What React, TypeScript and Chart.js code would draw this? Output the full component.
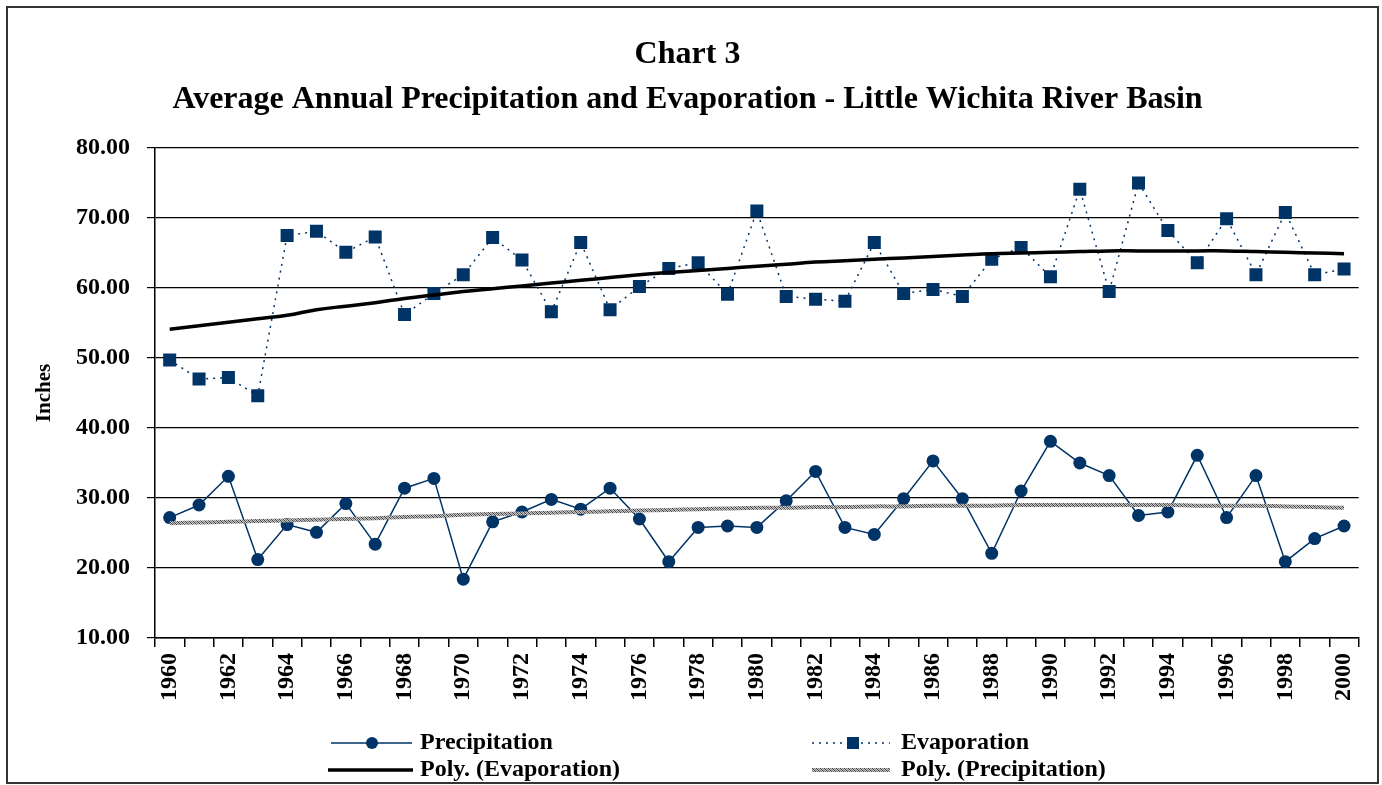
import React, { useEffect, useRef } from 'react';
import { Chart, registerables } from 'chart.js';

Chart.register(...registerables);

const years = [
  '1960', '1961', '1962', '1963', '1964', '1965', '1966', '1967', '1968', '1969',
  '1970', '1971', '1972', '1973', '1974', '1975', '1976', '1977', '1978', '1979',
  '1980', '1981', '1982', '1983', '1984', '1985', '1986', '1987', '1988', '1989',
  '1990', '1991', '1992', '1993', '1994', '1995', '1996', '1997', '1998', '1999', '2000',
];

const precipitation = [
  27.2, 29.0, 33.1, 21.2, 26.2, 25.1, 29.2, 23.4, 31.4, 32.8,
  18.4, 26.6, 28.0, 29.8, 28.4, 31.4, 27.0, 20.9, 25.8, 26.0,
  25.8, 29.6, 33.8, 25.8, 24.8, 29.9, 35.3, 29.9, 22.1, 31.0,
  38.1, 35.0, 33.2, 27.5, 28.0, 36.1, 27.2, 33.2, 20.9, 24.2, 26.0,
];

const evaporation = [
  49.7, 47.0, 47.2, 44.6, 67.5, 68.1, 65.1, 67.3, 56.2, 59.2,
  61.9, 67.2, 64.0, 56.6, 66.5, 56.9, 60.2, 62.8, 63.6, 59.1,
  71.0, 58.8, 58.4, 58.1, 66.5, 59.2, 59.8, 58.8, 64.1, 65.8,
  61.6, 74.1, 59.5, 75.0, 68.2, 63.6, 69.9, 61.9, 70.8, 61.9, 62.7,
];

const polyEvaporation = [
  54.1, 54.6, 55.1, 55.6, 56.1, 56.9, 57.4, 57.9, 58.5, 59.0,
  59.5, 59.9, 60.3, 60.7, 61.1, 61.5, 61.9, 62.2, 62.5, 62.8,
  63.1, 63.4, 63.7, 63.9, 64.1, 64.3, 64.5, 64.7, 64.9, 65.0,
  65.1, 65.2, 65.3, 65.3, 65.3, 65.3, 65.3, 65.2, 65.1, 65.0, 64.9,
];

const polyPrecipitation = [
  26.4, 26.5, 26.6, 26.7, 26.8, 26.9, 27.0, 27.1, 27.3, 27.4,
  27.6, 27.7, 27.8, 27.9, 28.0, 28.1, 28.2, 28.3, 28.4, 28.5,
  28.6, 28.6, 28.7, 28.7, 28.8, 28.8, 28.9, 28.9, 28.9, 29.0,
  29.0, 29.0, 29.0, 29.0, 29.0, 28.9, 28.9, 28.9, 28.8, 28.7, 28.6,
];

const seriesNames = ['Precipitation', 'Evaporation', 'Poly. (Evaporation)', 'Poly. (Precipitation)'];
const titleLines = ['Chart 3', 'Average Annual Precipitation and Evaporation - Little Wichita River Basin'];
const yAxisTitle = 'Inches';
const yMin = 10;
const yMax = 80;
const yStep = 10;

const SERIF = '"Liberation Serif", "Times New Roman", serif';
const NAVY = '#003366';

function makeHatch(): CanvasPattern | string {
  const c = document.createElement('canvas');
  c.width = 4;
  c.height = 4;
  const g = c.getContext('2d');
  if (!g) return '#888888';
  g.fillStyle = '#c4c4c4';
  g.fillRect(0, 0, 4, 4);
  g.fillStyle = '#404040';
  for (let i = 0; i < 4; i++) g.fillRect(i, i, 1, 1);
  g.fillStyle = '#808080';
  for (let i = 0; i < 4; i++) g.fillRect((i + 2) % 4, i, 1, 1);
  const p = g.createPattern(c, 'repeat');
  return p || '#888888';
}

const legendPlugin = {
  id: 'customLegend',
  afterDraw(chart: any) {
    const ctx = chart.ctx as CanvasRenderingContext2D;
    const ds = chart.data.datasets;
    const items = [
      { i: 0, x0: 322, x1: 403, mx: 363, tx: 411, y: 734, marker: 'circle' },
      { i: 1, x0: 803, x1: 881, mx: 844, tx: 892, y: 734, marker: 'rect' },
      { i: 2, x0: 319, x1: 404, mx: 0, tx: 411, y: 761, marker: '' },
      { i: 3, x0: 803, x1: 881, mx: 0, tx: 892, y: 761, marker: '' },
    ];
    ctx.save();
    for (const it of items) {
      const d = ds[it.i];
      ctx.beginPath();
      ctx.strokeStyle = d.borderColor;
      ctx.lineWidth = d.borderWidth;
      ctx.setLineDash(d.borderDash || []);
      ctx.moveTo(it.x0, it.y);
      ctx.lineTo(it.x1, it.y);
      ctx.stroke();
      ctx.setLineDash([]);
      if (it.marker === 'circle') {
        ctx.beginPath();
        ctx.fillStyle = d.pointBackgroundColor;
        ctx.arc(it.mx, it.y, 6, 0, Math.PI * 2);
        ctx.fill();
      } else if (it.marker === 'rect') {
        ctx.fillStyle = d.pointBackgroundColor;
        ctx.fillRect(it.mx - 6, it.y - 6, 12, 12);
      }
      ctx.fillStyle = '#000';
      ctx.font = `bold 24px ${SERIF}`;
      ctx.textAlign = 'left';
      ctx.textBaseline = 'middle';
      ctx.fillText(d.label, it.tx, it.y);
    }
    ctx.restore();
  },
};

export default function App() {
  const ref = useRef<HTMLCanvasElement | null>(null);

  useEffect(() => {
    if (!ref.current) return;
    const hatch = makeHatch();
    const chart = new Chart(ref.current, {
      type: 'line',
      data: {
        labels: years,
        datasets: [
          {
            label: seriesNames[0],
            data: precipitation,
            borderColor: NAVY,
            borderWidth: 1.5,
            pointStyle: 'circle',
            pointRadius: 6.5,
            pointBorderWidth: 0,
            pointBackgroundColor: NAVY,
            pointBorderColor: NAVY,
            tension: 0,
            order: 2,
          },
          {
            label: seriesNames[1],
            data: evaporation,
            borderColor: NAVY,
            borderWidth: 1.5,
            borderDash: [2, 5],
            pointStyle: 'rect',
            pointRadius: 9.2,
            pointBorderWidth: 0,
            pointBackgroundColor: NAVY,
            pointBorderColor: NAVY,
            tension: 0,
            order: 2,
          },
          {
            label: seriesNames[2],
            data: polyEvaporation,
            borderColor: '#000000',
            borderWidth: 3.5,
            pointRadius: 0,
            tension: 0.4,
            order: 1,
          },
          {
            label: seriesNames[3],
            data: polyPrecipitation,
            borderColor: hatch as any,
            borderWidth: 4,
            pointRadius: 0,
            tension: 0.4,
            order: 1,
          },
        ],
      },
      options: {
        animation: false,
        responsive: true,
        maintainAspectRatio: false,
        layout: { padding: { left: 0, right: 13, top: 0, bottom: 80 } },
        plugins: {
          legend: { display: false },
          tooltip: { enabled: false },
          title: {
            display: true,
            text: titleLines,
            color: '#000',
            font: { family: SERIF, size: 32, weight: 'bold', lineHeight: 1.406 },
            padding: { top: 23.5, bottom: 25.5 },
          },
        },
        scales: {
          x: {
            type: 'category',
            offset: true,
            border: { display: true, color: '#000', width: 1.5 },
            grid: {
              offset: true,
              drawOnChartArea: false,
              drawTicks: true,
              tickLength: 9,
              color: '#000',
              lineWidth: 1.5,
            },
            ticks: {
              autoSkip: false,
              maxRotation: 90,
              minRotation: 90,
              padding: 6,
              color: '#000',
              font: { family: SERIF, size: 24, weight: 'bold' },
              callback: (_v: any, i: number) => (i % 2 === 0 ? years[i] : ''),
            },
            afterFit: (s: any) => {
              s.height = 63;
            },
          },
          y: {
            min: yMin,
            max: yMax,
            border: { display: true, color: '#000', width: 1.5 },
            grid: {
              color: '#000',
              lineWidth: 1.2,
              tickLength: 8,
              drawTicks: true,
            },
            ticks: {
              stepSize: yStep,
              padding: 17,
              color: '#000',
              font: { family: SERIF, size: 24, weight: 'bold' },
              callback: (v: any) => Number(v).toFixed(2),
            },
            title: {
              display: true,
              text: yAxisTitle,
              color: '#000',
              font: { family: SERIF, size: 21, weight: 'bold' },
              padding: { top: 23, bottom: 0 },
            },
            afterFit: (s: any) => {
              s.width = 146;
            },
          },
        },
      },
      plugins: [legendPlugin],
    });
    return () => chart.destroy();
  }, []);

  return (
    <>
      <div
        style={{
          position: 'absolute',
          left: 6,
          top: 6,
          width: 1373,
          height: 778,
          border: '2px solid #333',
          boxSizing: 'border-box',
          background: '#fff',
        }}
      />
      <div style={{ position: 'absolute', left: 9, top: 9, width: 1370, height: 772 }}>
        <canvas ref={ref} />
      </div>
    </>
  );
}
